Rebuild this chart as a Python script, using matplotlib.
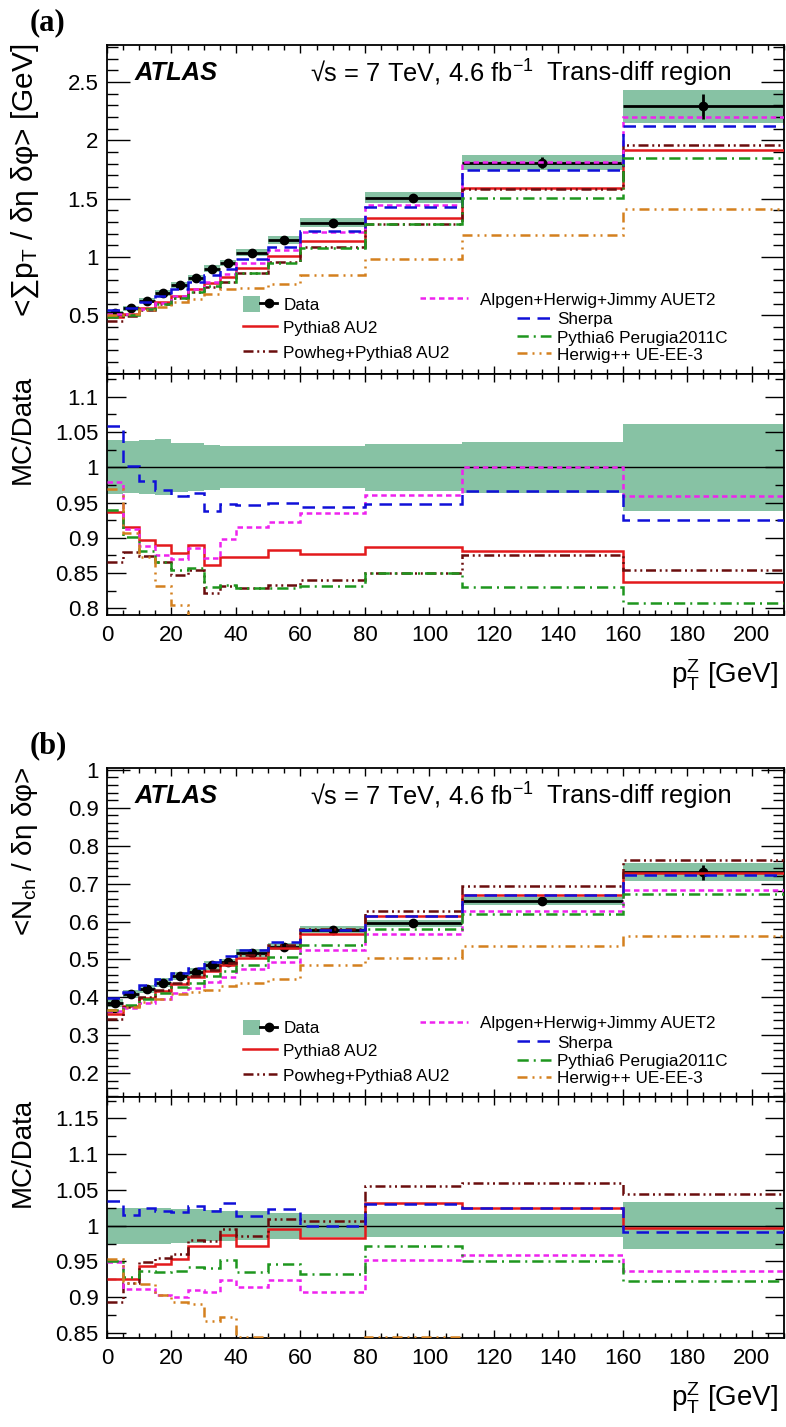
import matplotlib
matplotlib.use('Agg')
import matplotlib.pyplot as plt
from matplotlib.ticker import MultipleLocator, FuncFormatter
from matplotlib.patches import Patch
from matplotlib.lines import Line2D
from matplotlib.legend import Legend
from matplotlib.legend_handler import HandlerTuple
import numpy as np

plt.rcParams['font.family'] = ['Liberation Sans', 'DejaVu Sans']
plt.rcParams['mathtext.fontset'] = 'custom'
plt.rcParams['mathtext.rm'] = 'Liberation Sans'
plt.rcParams['mathtext.it'] = 'Liberation Sans:italic'
plt.rcParams['mathtext.bf'] = 'Liberation Sans:bold'

# pT(Z) bin edges [GeV]
edges = [0, 5, 10, 15, 20, 25, 30, 35, 40, 50, 60, 80, 110, 160, 210]

# (a) <sum pT / deta dphi> [GeV]
data_a = [0.517, 0.56, 0.625, 0.69, 0.76, 0.817, 0.90, 0.946, 1.037, 1.146, 1.294, 1.508, 1.809, 2.29]
stat_a = [0.004, 0.004, 0.005, 0.005, 0.006, 0.006, 0.007, 0.008, 0.008, 0.01, 0.01, 0.02, 0.045, 0.11]
unc_a = [0.038, 0.037, 0.038, 0.040, 0.035, 0.034, 0.032, 0.030, 0.030, 0.030, 0.030, 0.033, 0.036, 0.062]
# MC/Data ratios
pythia8_a = [0.937, 0.915, 0.897, 0.890, 0.878, 0.890, 0.861, 0.873, 0.873, 0.882, 0.877, 0.887, 0.881, 0.838]
powheg_a = [0.865, 0.880, 0.874, 0.866, 0.847, 0.855, 0.822, 0.832, 0.829, 0.833, 0.840, 0.850, 0.875, 0.854]
alpgen_a = [0.979, 0.912, 0.889, 0.875, 0.870, 0.886, 0.871, 0.898, 0.915, 0.923, 0.935, 0.960, 1.001, 0.959]
sherpa_a = [1.059, 1.002, 0.980, 0.968, 0.959, 0.964, 0.938, 0.948, 0.947, 0.950, 0.943, 0.948, 0.967, 0.925]
pythia6_a = [0.940, 0.901, 0.881, 0.866, 0.855, 0.857, 0.830, 0.833, 0.829, 0.829, 0.832, 0.850, 0.830, 0.808]
herwig_a = [0.969, 0.907, 0.873, 0.832, 0.804, 0.78, 0.76, 0.77, 0.706, 0.67, 0.65, 0.65, 0.655, 0.616]

# (b) <Nch / deta dphi>
data_b = [0.3847, 0.408, 0.421, 0.439, 0.4567, 0.4655, 0.484, 0.492, 0.518, 0.534, 0.578, 0.5956, 0.6537, 0.730]
stat_b = [0.002, 0.002, 0.002, 0.002, 0.002, 0.003, 0.003, 0.003, 0.003, 0.004, 0.004, 0.005, 0.008, 0.02]
unc_b = [0.025, 0.025, 0.025, 0.025, 0.024, 0.024, 0.022, 0.021, 0.020, 0.018, 0.016, 0.016, 0.016, 0.033]
pythia8_b = [0.926, 0.926, 0.943, 0.947, 0.953, 0.972, 0.971, 0.987, 0.972, 0.995, 0.983, 1.032, 1.025, 0.997]
powheg_b = [0.893, 0.920, 0.949, 0.955, 0.961, 0.980, 0.978, 0.995, 0.986, 1.010, 1.006, 1.056, 1.060, 1.044]
alpgen_b = [0.949, 0.911, 0.912, 0.903, 0.901, 0.910, 0.908, 0.924, 0.915, 0.924, 0.908, 0.952, 0.959, 0.937]
sherpa_b = [1.034, 1.015, 1.025, 1.021, 1.019, 1.028, 1.020, 1.032, 1.013, 1.023, 0.999, 1.030, 1.025, 0.991]
pythia6_b = [0.950, 0.928, 0.937, 0.935, 0.937, 0.942, 0.941, 0.952, 0.935, 0.947, 0.932, 0.972, 0.950, 0.923]
herwig_b = [0.954, 0.920, 0.918, 0.903, 0.893, 0.890, 0.867, 0.873, 0.844, 0.842, 0.840, 0.845, 0.817, 0.770]

names = ['pythia8', 'powheg', 'alpgen', 'sherpa', 'pythia6', 'herwig']
labels = {'pythia8': 'Pythia8 AU2', 'powheg': 'Powheg+Pythia8 AU2',
          'alpgen': 'Alpgen+Herwig+Jimmy AUET2', 'sherpa': 'Sherpa',
          'pythia6': 'Pythia6 Perugia2011C', 'herwig': 'Herwig++ UE-EE-3'}
styles = {'pythia8': dict(color='#e3191c', ls='-'),
          'powheg': dict(color='#6a0d0d', ls=(0, (4, 1.5, 0.8, 1.5, 0.8, 1.5))),
          'alpgen': dict(color='#ee22ee', ls=(0, (2.2, 1.5))),
          'sherpa': dict(color='#1010d8', ls=(0, (5, 3))),
          'pythia6': dict(color='#1e961e', ls=(0, (4.5, 2, 0.8, 2))),
          'herwig': dict(color='#d4801e', ls=(0, (4, 2, 0.8, 2, 0.8, 2)))}
band_color = '#87c2a4'
LW = 1.8

W, H = 786, 1427
fig = plt.figure(figsize=(W / 100, H / 100), dpi=100)


def box(top, bottom):
    return [107 / W, 1 - bottom / H, (784 - 107) / W, (bottom - top) / H]


fmt = FuncFormatter(lambda v, p: '' if abs(v) < 1e-9 else '%g' % v)


def style_axis(ax, ymaj, ymin, ylen):
    ax.set_xlim(0, 210)
    ax.xaxis.set_major_locator(MultipleLocator(20))
    ax.xaxis.set_minor_locator(MultipleLocator(5))
    ax.yaxis.set_major_locator(MultipleLocator(ymaj))
    ax.yaxis.set_minor_locator(MultipleLocator(ymin))
    ax.yaxis.set_major_formatter(fmt)
    ax.tick_params(which='both', direction='in', top=True, right=True, width=1.0, labelsize=16)
    ax.tick_params(axis='y', which='major', length=ylen, pad=6)
    ax.tick_params(axis='y', which='minor', length=ylen / 2)
    ax.tick_params(axis='x', which='major', length=6, pad=7)
    ax.tick_params(axis='x', which='minor', length=3.5)
    for s in ax.spines.values():
        s.set_linewidth(1.3)


def entry(ax, handle, label, x_px, y_px, hlen, hpad, height):
    # one legend row; x_px = left of the handle (figure px), y_px = height above the axes bottom
    leg = Legend(ax, [handle], [label], loc='center left',
                 bbox_to_anchor=((x_px - 107) / 677, y_px / height), frameon=False,
                 fontsize=12.3, handlelength=hlen, handleheight=1.0, handletextpad=hpad,
                 borderpad=0, borderaxespad=0,
                 handler_map={tuple: HandlerTuple(ndivide=None)})
    ax.add_artist(leg)


def draw(top, mid, bottom, data, stat, unc, ratios, ylim_main, ylim_ratio, ymaj, ymin,
         ylabel, ylabel_size, tag):
    e = np.array(edges, dtype=float)
    d = np.array(data)
    u = np.array(unc)
    centers = (e[1:] + e[:-1]) / 2
    half = (e[1:] - e[:-1]) / 2

    ax = fig.add_axes(box(top, mid))
    ax.stairs(d * (1 + u), e, baseline=d * (1 - u), fill=True, color=band_color, lw=0, zorder=1)
    ax.errorbar(centers, d, xerr=half, yerr=stat, fmt='o', color='k', ms=6, lw=2, capsize=0, zorder=2)
    for n in names:
        ax.stairs(np.array(ratios[n]) * d, e, baseline=None, lw=LW, zorder=3, **styles[n])
    ax.set_ylim(*ylim_main)
    style_axis(ax, ymaj, ymin, 16.5)
    ax.tick_params(axis='x', labelbottom=False)

    ax.text(0.0414, 0.915, 'ATLAS', transform=ax.transAxes, fontsize=18.4,
            fontweight='bold', fontstyle='italic', va='center')
    ax.text(0.30, 0.915, '√s = 7 TeV, 4.6 $\\rm fb^{-1}$', transform=ax.transAxes,
            fontsize=18.4, va='center')
    ax.text(0.650, 0.915, 'Trans-diff region', transform=ax.transAxes, fontsize=18.4, va='center')

    # legend rows
    hgt = mid - top
    patch = Patch(facecolor=band_color, edgecolor='none')
    dline = Line2D([], [], color='k', marker='o', ms=6, lw=2)
    hl = {n: Line2D([], [], lw=LW, **styles[n]) for n in names}
    entry(ax, (patch, dline), 'Data', 243, 68.8, 2.0, 0.35, hgt)
    entry(ax, hl['pythia8'], labels['pythia8'], 243, 46.2, 2.0, 0.35, hgt)
    entry(ax, hl['powheg'], labels['powheg'], 243, 21.2, 2.0, 0.35, hgt)
    entry(ax, hl['alpgen'], labels['alpgen'], 420, 74.0, 2.8, 0.7, hgt)
    entry(ax, hl['sherpa'], labels['sherpa'], 517, 54.4, 2.0, 0.35, hgt)
    entry(ax, hl['pythia6'], labels['pythia6'], 517, 36.0, 2.0, 0.35, hgt)
    entry(ax, hl['herwig'], labels['herwig'], 517, 19.0, 2.0, 0.35, hgt)

    rx = fig.add_axes(box(mid, bottom))
    rx.stairs(1 + u, e, baseline=1 - u, fill=True, color=band_color, lw=0, zorder=1)
    rx.axhline(1, color='k', lw=1.0, zorder=2)
    for n in names:
        rx.stairs(ratios[n], e, baseline=None, lw=LW, zorder=3, **styles[n])
    rx.set_ylim(*ylim_ratio)
    style_axis(rx, 0.05, 0.025, 13.5)
    rx.annotate('p$_{\\rm T}^{\\rm Z}$ [GeV]', xy=(1, 0), xycoords='axes fraction',
                xytext=(-4, -31), textcoords='offset points', ha='right', va='top', fontsize=20)

    fig.text(25 / W, 1 - (top - 2) / H, ylabel, rotation=90, ha='center', va='top',
             fontsize=ylabel_size)
    fig.text(23 / W, 1 - (mid + 1) / H, 'MC/Data', rotation=90, ha='center', va='top', fontsize=20)
    fig.text(30 / W, 1 - (top - 22) / H, tag, family='Liberation Serif', fontweight='bold',
             fontsize=22, ha='left', va='center')


ratios_a = {'pythia8': pythia8_a, 'powheg': powheg_a, 'alpgen': alpgen_a,
            'sherpa': sherpa_a, 'pythia6': pythia6_a, 'herwig': herwig_a}
ratios_b = {'pythia8': pythia8_b, 'powheg': powheg_b, 'alpgen': alpgen_b,
            'sherpa': sherpa_b, 'pythia6': pythia6_b, 'herwig': herwig_b}

draw(45, 373.5, 615, data_a, stat_a, unc_a, ratios_a, (0, 2.817), (0.7905, 1.133),
     0.5, 0.1, '<∑p$_{\\rm T}$ / δη δφ> [GeV]', 21.5, '(a)')
draw(768, 1097, 1338, data_b, stat_b, unc_b, ratios_b, (0.137, 1.005), (0.843, 1.180),
     0.1, 0.02, '<N$_{\\rm ch}$ / δη δφ>', 20, '(b)')

fig.savefig('out.png', dpi=100)
